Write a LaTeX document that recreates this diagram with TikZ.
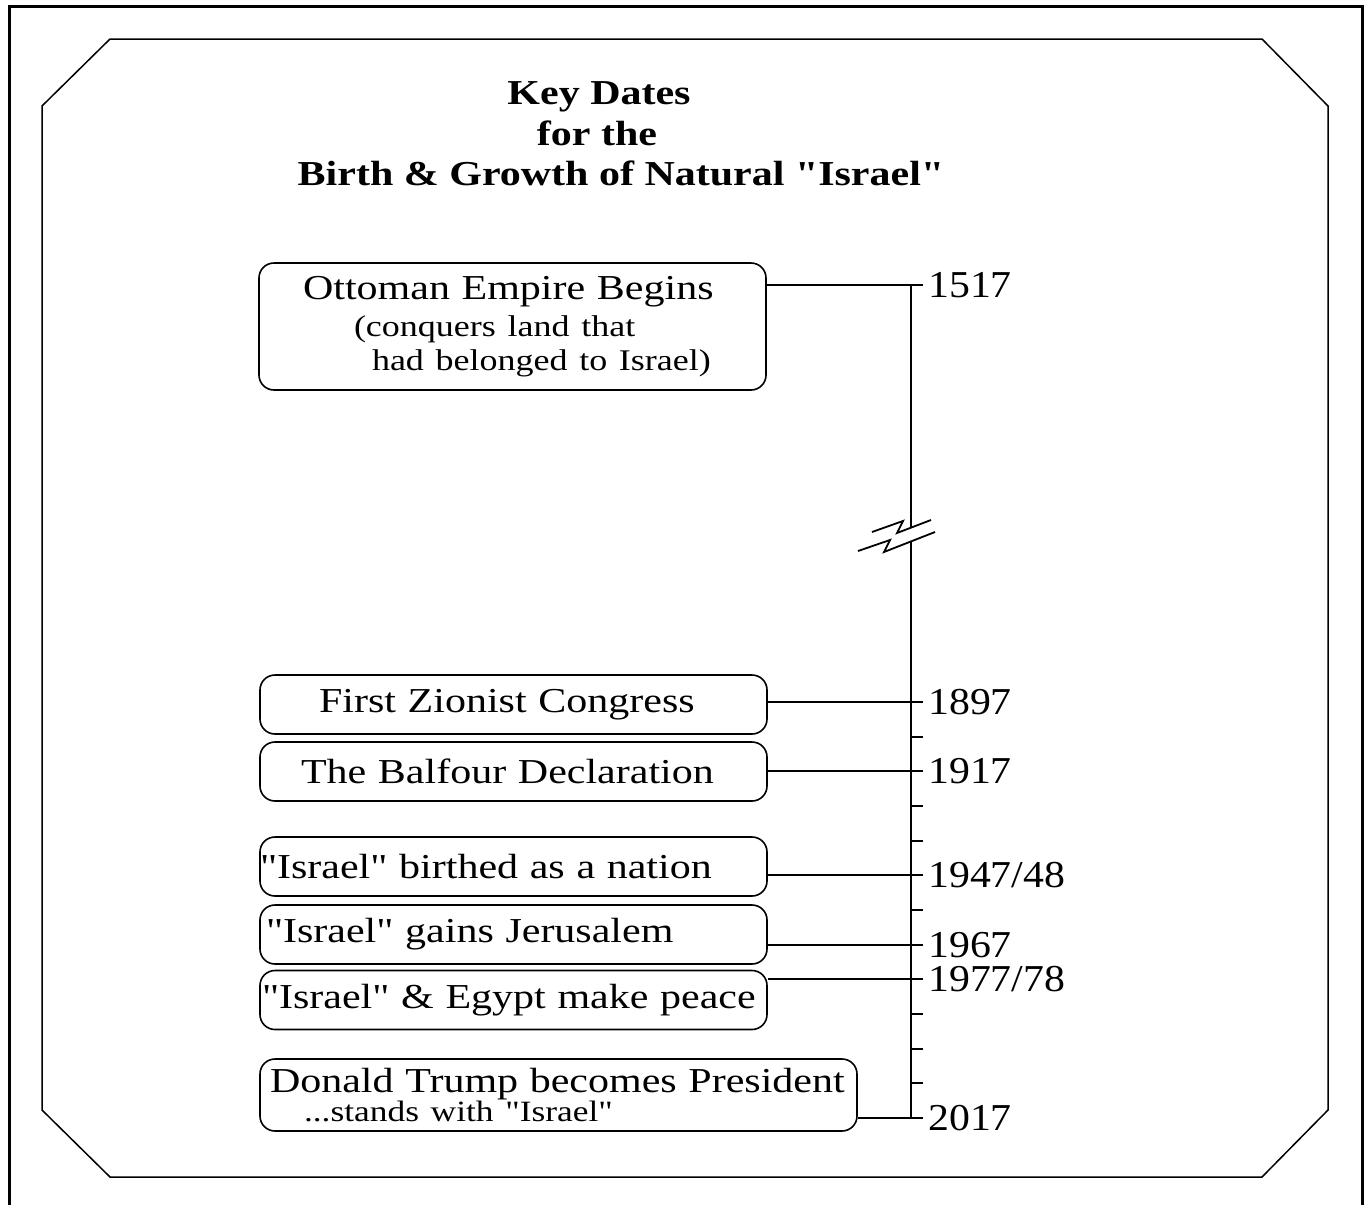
\documentclass[tikz,border=0pt]{standalone}
\usepackage{fontspec}
\setmainfont[FakeStretch=1.2, Ligatures=TeXOff]{Liberation Serif}
\newfontfamily\datefont[FakeStretch=1.1, Ligatures=TeXOff]{Liberation Serif}
\usetikzlibrary{positioning}

\tikzset{
  datebox/.style={draw, rounded corners=15pt, line width=1.6pt, minimum width=507pt,
    minimum height=59pt, inner sep=0pt, text width=507pt, font=\fontsize{35}{36}\selectfont},
  link/.style={line width=1.8pt},
  axis/.style={line width=2.4pt},
  yearlabel/.style={anchor=west, inner sep=0pt, font=\datefont\fontsize{38}{40}\selectfont},
  titleline/.style={anchor=base, inner sep=0pt, font=\bfseries\fontsize{35}{40}\selectfont},
}

\begin{document}
\begin{tikzpicture}[x=1pt,y=-1pt]
    \useasboundingbox (0,0) rectangle (1369,1205);

    % frame
    \draw[line width=3pt] (9,1205) -- (9,6) -- (1362,6) -- (1362,1205);
    \draw[line width=1.5pt] (110,39) -- (1262,39) -- (1328,106) -- (1328,1110)
        -- (1262,1177) -- (110,1177) -- (42,1110) -- (42,106) -- cycle;

    % title
    \node[titleline] (title1) at (599,104) {Key Dates};
    \node[titleline] (title2) at (597,145) {for the};
    \node[titleline] (title3) at (621,185) {Birth \& Growth of Natural "Israel"};

    % time axis
    \coordinate (axistop) at (911,285);
    \coordinate (axisbot) at (911,1118);
    \coordinate (y1517) at (923,285);
    \coordinate (y1897) at (923,702);
    \coordinate (y1917) at (923,771.3);
    \coordinate (y1947) at (923,875.3);
    \coordinate (y1967) at (923,944.7);
    \coordinate (y1977) at (923,979.3);
    \coordinate (y2017) at (923,1118);

    \draw[axis] (axistop) -- (911,527.5);
    \draw[axis] (911,541) -- (axisbot);
    \draw[link] (872,532) -- (903,521) -- (897,533) -- (931,520);
    \draw[link] (858,551) -- (890,540) -- (884,552) -- (935,532);

    \foreach \yr in {1907,1927,1937,1957,1987,1997,2007}
        \draw[link] (911,{702+(\yr-1897)*3.4667}) -- ++(12,0);

    \node[yearlabel, right=5pt of y1517] (l1517) {1517};
    \node[yearlabel, right=5pt of y1897] (l1897) {1897};
    \node[yearlabel, right=5pt of y1917] (l1917) {1917};
    \node[yearlabel, right=5pt of y1947] (l1947) {1947/48};
    \node[yearlabel, right=5pt of y1967] (l1967) {1967};
    \node[yearlabel, right=5pt of y1977] (l1977) {1977/78};
    \node[yearlabel, right=5pt of y2017] (l2017) {2017};

    % events
    \node[datebox, minimum height=127pt, align=left] (ottoman) at (512.5,326.5)
        {\hspace*{44pt}Ottoman Empire Begins\\[1pt]
         {\fontsize{30}{34}\selectfont\hspace*{95pt}(conquers land that}\\[-2pt]
         {\fontsize{30}{34}\selectfont\hspace*{113pt}had belonged to Israel)}};
    \node[datebox, align=left] (zionist) at (513.5,704.5) {\hspace*{59pt}First Zionist Congress};
    \node[datebox, align=left] (balfour) at (513.5,771.5) {\hspace*{41pt}The Balfour Declaration};
    \node[datebox, align=left] (nation) at (513.5,866.5) {"Israel" birthed as a nation};
    \node[datebox, align=left] (jerusalem) at (513.5,934.5) {\hspace*{6pt}"Israel" gains Jerusalem};
    \node[datebox, align=left] (egypt) at (513.5,1000) {\hspace*{2pt}"Israel" \& Egypt make peace};
    \node[datebox, align=left, minimum width=597pt, text width=597pt, minimum height=72pt]
        (trump) at (558.5,1095)
        {\hspace*{10pt}Donald Trump becomes President\\[-7pt]
         {\fontsize{29.5}{32}\selectfont\hspace*{44pt}...stands with "Israel"}};

    \draw[link] (ottoman.east |- y1517) -- (y1517);
    \draw[link] (zionist.east |- y1897) -- (y1897);
    \draw[link] (balfour.east |- y1917) -- (y1917);
    \draw[link] (nation.east |- y1947) -- (y1947);
    \draw[link] (jerusalem.east |- y1967) -- (y1967);
    \draw[link] (egypt.east |- y1977) -- (y1977);
    \draw[link] (trump.east |- y2017) -- (y2017);
\end{tikzpicture}
\end{document}
